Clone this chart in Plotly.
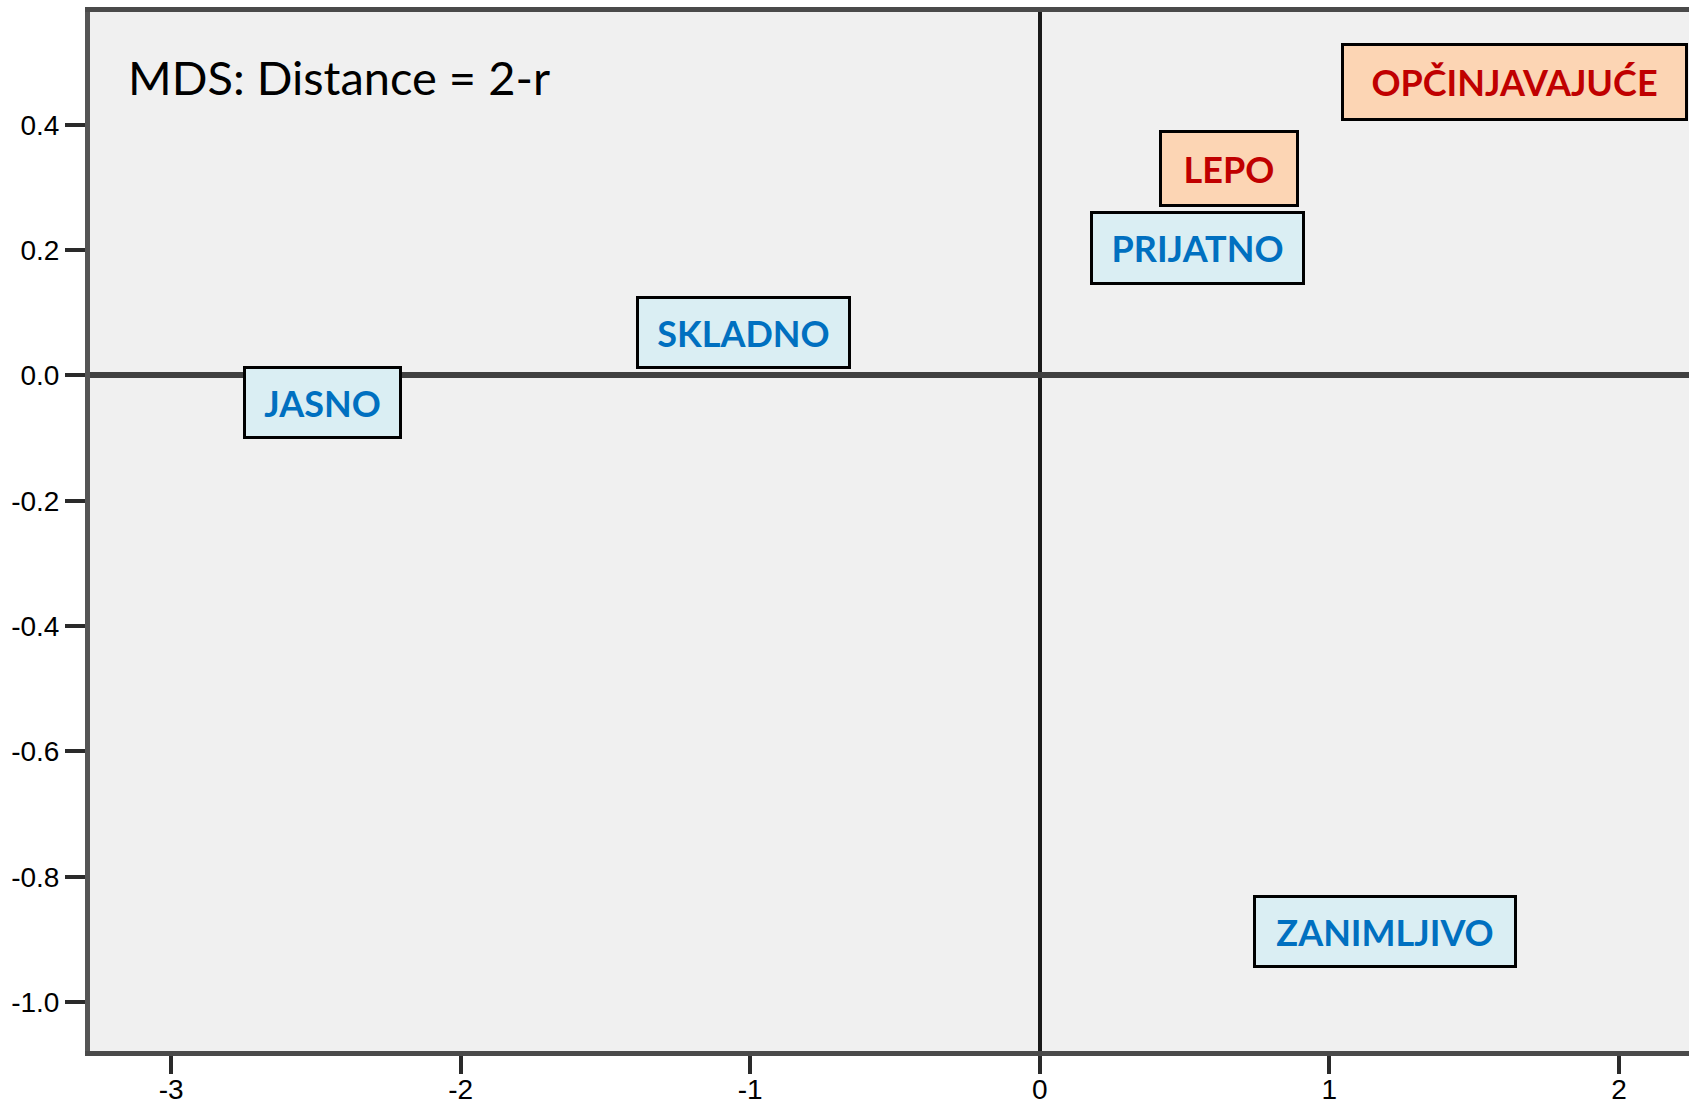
import plotly.graph_objects as go

# Data (MDS coordinates)
labels = ["JASNO", "SKLADNO", "PRIJATNO", "LEPO", "OPČINJAVAJUĆE", "ZANIMLJIVO"]
dim1 = [-2.477, -1.022, 0.543, 0.655, 1.641, 1.192]
dim2 = [-0.043, 0.068, 0.203, 0.331, 0.468, -0.888]
groups = ["blue", "blue", "blue", "red", "red", "blue"]

x_ticks = [-3, -2, -1, 0, 1, 2]
y_ticks = [0.4, 0.2, 0.0, -0.2, -0.4, -0.6, -0.8, -1.0]
title_text = "MDS: Distance = 2-r"

# styling (not data)
styles = {
    "blue": dict(text="#0070C0", bg="#DAEEF3"),
    "red": dict(text="#C00000", bg="#FCD5B4"),
}
box_size = {  # outer box size in px
    "JASNO": (156, 70), "SKLADNO": (212, 70), "PRIJATNO": (212, 71),
    "LEPO": (137, 74), "OPČINJAVAJUĆE": (344, 75), "ZANIMLJIVO": (261, 70),
}
BW = 3

fig = go.Figure()
fig.add_trace(go.Scatter(
    x=dim1, y=dim2, mode="markers",
    marker=dict(size=6, color="black"),
    hoverinfo="skip", showlegend=False,
))

for lab, xv, yv, g in zip(labels, dim1, dim2, groups):
    s = styles[g]
    w, h = box_size[lab]
    fig.add_annotation(
        x=xv, y=yv, xref="x", yref="y", text=f"<b>{lab}</b>",
        showarrow=False, xanchor="center", yanchor="middle",
        width=w - BW, height=h - BW, align="center", valign="middle",
        font=dict(family="Lato", size=36, color=s["text"]),
        bgcolor=s["bg"], bordercolor="black", borderwidth=BW, borderpad=0,
    )

fig.add_annotation(
    x=0.0225, y=0.9376, xref="paper", yref="paper", text=title_text,
    showarrow=False, xanchor="left", yanchor="middle",
    font=dict(family="Lato", size=47, color="black"),
)

fig.update_layout(
    width=1689, height=1107,
    margin=dict(l=90, r=0, t=12, b=56, autoexpand=False),
    paper_bgcolor="white", plot_bgcolor="#F0F0F0",
    font=dict(family="Liberation Sans", size=28, color="black"),
    xaxis=dict(
        range=[-3.280, 2.242], tickmode="array", tickvals=x_ticks,
        ticktext=[str(v) for v in x_ticks], automargin=False,
        showgrid=False, zeroline=True, zerolinecolor="#1a1a1a", zerolinewidth=4,
        showline=True, linecolor="#4a4a4a", linewidth=5, mirror=True,
        ticks="outside", ticklen=18, tickwidth=4, tickcolor="#2a2a2a",
        ticklabelstandoff=-9,
    ),
    yaxis=dict(
        range=[-1.078, 0.580], tickmode="array", tickvals=y_ticks,
        ticktext=[f"{v:.1f}" for v in y_ticks], automargin=False,
        showgrid=False, zeroline=True, zerolinecolor="#404040", zerolinewidth=6,
        showline=True, linecolor="#555555", linewidth=5,
        ticks="outside", ticklen=20, tickwidth=4, tickcolor="#2a2a2a",
    ),
)

fig.write_html("out.html", config={"displayModeBar": False},
               post_script="document.body.style.margin='0px';")
